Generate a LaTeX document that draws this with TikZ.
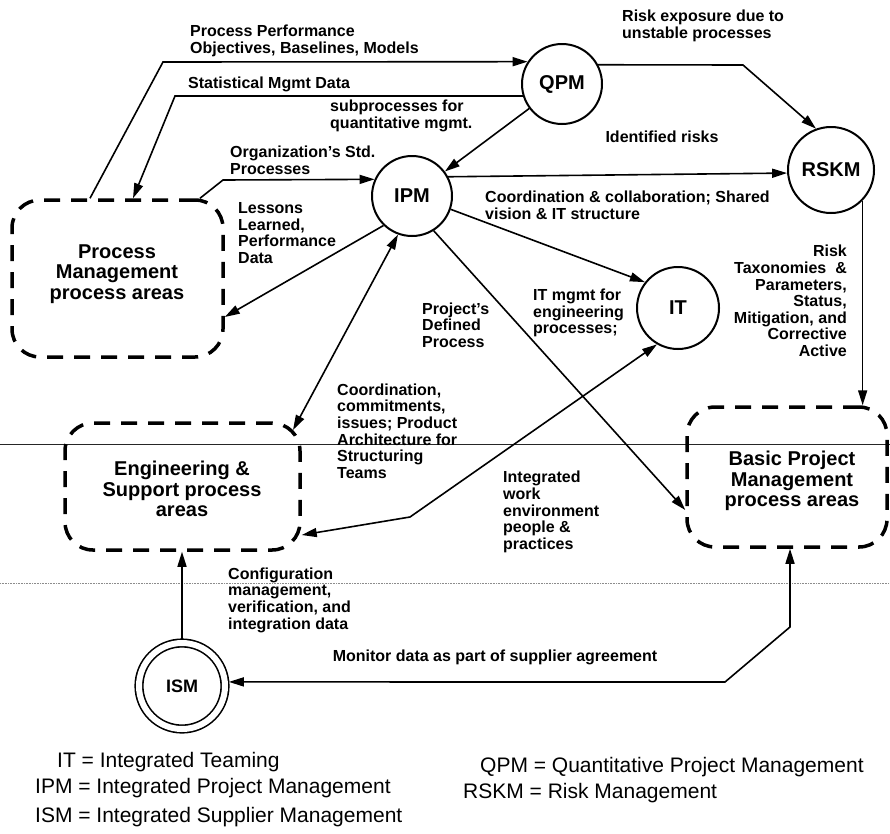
\documentclass[tikz,border=0pt]{standalone}
\usepackage{fontspec}
\setmainfont{Liberation Sans}
\usetikzlibrary{arrows.meta,calc}
\begin{document}
\begin{tikzpicture}[x=1pt,y=-1pt,
  proc/.style={circle,draw,line width=2pt,inner sep=0pt,minimum size=80pt,
    font=\fontsize{20}{20}\selectfont\bfseries},
  area/.style={draw,line width=3.5pt,dash pattern=on 16pt off 11pt,
    rounded corners=28pt,inner sep=0pt},
  areatext/.style={align=center,inner sep=0pt,
    font=\fontsize{20}{20.5}\selectfont\bfseries},
  lbl/.style={inner sep=0pt,font=\fontsize{16}{16.6}\selectfont\bfseries},
  flow/.style={line width=1.6pt,-{Triangle[length=15pt,width=9pt]}},
  flowboth/.style={line width=1.6pt,
    {Triangle[length=15pt,width=9pt]}-{Triangle[length=15pt,width=9pt]}},
  key/.style={anchor=west,inner sep=0pt,font=\fontsize{21}{21}\selectfont}
]
% canvas
\fill[white] (0,0) rectangle (890,833);
\path[use as bounding box] (0,0) rectangle (890,833);

% page rules
\draw[line width=1pt,black!85] (0,444) -- (890,444);
\draw[line width=0.6pt,black!45,densely dotted] (0,583) -- (890,583);

% process area groups
\node[area,minimum width=211pt,minimum height=157pt] (pm) at (117.5,278.5) {};
\node[areatext] (pmtext) at (117,274) {Process\\Management\\process areas};
\node[area,minimum width=235pt,minimum height=127pt] (eng) at (182.5,486.5) {};
\node[areatext] (engtext) at (182,489) {Engineering \&\\Support process\\areas};
\node[area,minimum width=200pt,minimum height=140pt] (pb) at (787,477) {};
\node[areatext] (pbtext) at (792,481) {Basic Project\\Management\\process areas};

% process areas
\node[proc] (QPM) at (562,84) {QPM};
\node[proc,minimum size=86pt] (RSKM) at (831,170) {RSKM};
\node[proc] (IPM) at (412,196) {IPM};
\node[proc,minimum size=82pt] (IT) at (678,308) {IT};
\node[proc,minimum size=86pt,line width=1.6pt,double,double distance=6pt,
  outer sep=4pt,font=\fontsize{18}{18}\selectfont\bfseries] (ISM) at (182,686) {ISM};

\coordinate (engtip) at (293,430);

% information flows
\draw[flow] (90,0 |- pm.north) -- (163,62) -- (QPM.147);
\draw[flow] (QPM.197) -- (175,96) -- (133,0 |- pm.north);
\draw[flow] (QPM) -- (IPM);
\draw[flow] (QPM.28) -- (743,65) -- (RSKM.110);
\draw[flow] (IPM.28) -- (RSKM.184);
\draw[flow] (IPM.-19) -- (IT.142);
\draw[flow] (IPM.-58) -- (pb.west |- 0,510);
\draw[flowboth] (eng.east |- 0,535) -- (410,517) -- (IT.240);
\draw[flowboth] (IPM.250) -- (engtip);
\draw[flow] (IPM.226) -- (pm.east |- 0,317);
\draw[flow] (200,0 |- pm.north) -- (223,180) -- (IPM.156);
\draw[flow] (RSKM.316) -- (RSKM.316 |- pb.north);
\draw[flow] (ISM.north) -- (ISM.north |- eng.south);
\draw[flowboth] (ISM.5) -- (725,682) -- (790,627) -- (790,0 |- pb.south);

% flow labels
\node[lbl,anchor=west,align=left] (l-ppo) at (190,41) {Process Performance\\Objectives, Baselines, Models};
\node[lbl,anchor=west] (l-stat) at (188,84) {Statistical Mgmt Data};
\node[lbl,anchor=west,align=left] (l-sub) at (330,116) {subprocesses for\\quantitative mgmt.};
\node[lbl,anchor=west,align=left] (l-osp) at (230,160) {Organization's Std.\\Processes};
\node[lbl,anchor=west,align=left] (l-les) at (238,233) {Lessons\\Learned,\\Performance\\Data};
\node[lbl,anchor=west,align=left] (l-rex) at (622,26) {Risk exposure due to\\unstable processes};
\node[lbl] (l-idr) at (662,137) {Identified risks};
\node[lbl,anchor=west,align=left] (l-coo) at (485,205) {Coordination \& collaboration; Shared\\vision \& IT structure};
\node[lbl,anchor=west,align=left] (l-pdp) at (422,325) {Project's\\Defined\\Process};
\node[lbl,anchor=west,align=left] (l-itm) at (533,313) {IT mgmt for\\engineering\\processes;};
\node[lbl,anchor=east,align=right] (l-rtx) at (847,301) {Risk\\Taxonomies\ \ \&\\Parameters,\\Status,\\Mitigation, and\\Corrective\\Active};
\node[lbl,anchor=west,align=left] (l-ccm) at (337,431) {Coordination,\\commitments,\\issues; Product\\Architecture for\\Structuring\\Teams};
\node[lbl,anchor=west,align=left] (l-iwe) at (503,512) {Integrated\\work\\environment\\people \&\\practices};
\node[lbl,anchor=west,align=left] (l-cfg) at (228,600) {Configuration\\management,\\verification, and\\integration data};
\node[lbl] (l-mon) at (495,657) {Monitor data as part of supplier agreement};

% abbreviations
\node[key] (k-it) at (57,762) {IT = Integrated Teaming};
\node[key] (k-ipm) at (35,788) {IPM = Integrated Project Management};
\node[key] (k-ism) at (35,817) {ISM = Integrated Supplier Management};
\node[key] (k-qpm) at (480,767) {QPM = Quantitative Project Management};
\node[key] (k-rskm) at (463,793) {RSKM = Risk Management};
\end{tikzpicture}
\end{document}
